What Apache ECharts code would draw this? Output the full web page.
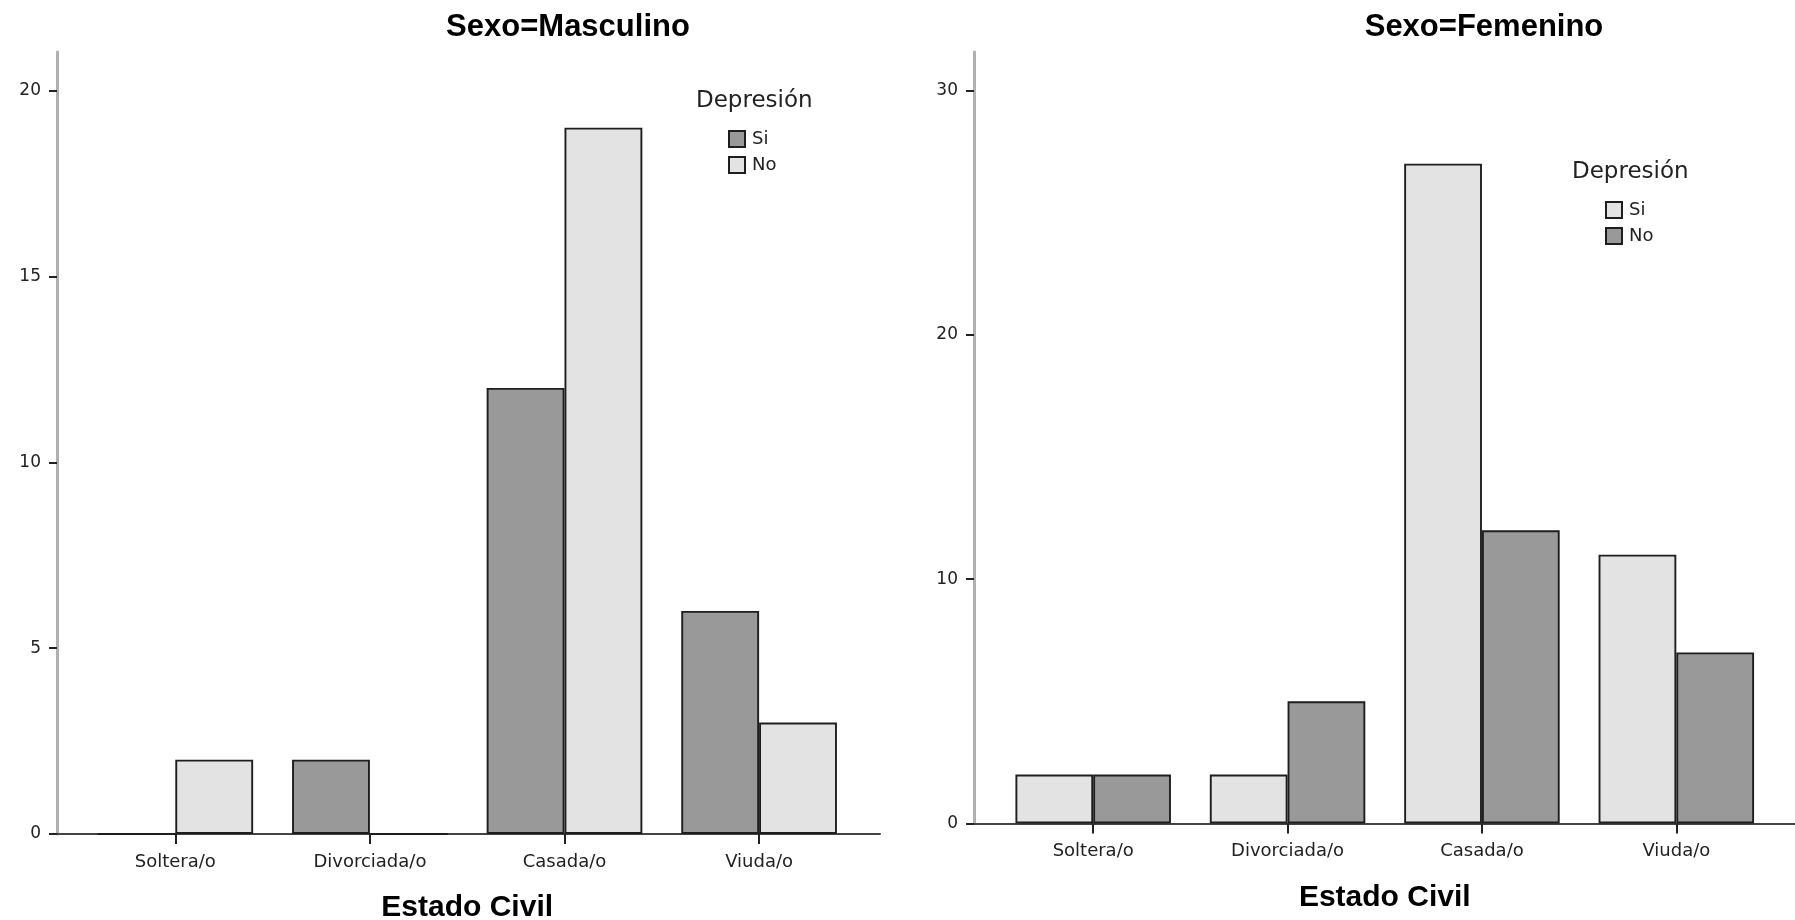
<!DOCTYPE html>
<html>
<head>
<meta charset="utf-8">
<script src="https://cdn.jsdelivr.net/npm/echarts@6/dist/echarts.min.js"></script>
<style>
html,body{margin:0;padding:0;background:#fff;}
#chart{width:1795px;height:920px;}
</style>
</head>
<body>
<div id="chart"></div>
<script>
// ---- data ----
const categories = ['Soltera/o', 'Divorciada/o', 'Casada/o', 'Viuda/o'];
const legendLabels = ['Si', 'No'];
const masculinoSi = [0, 2, 12, 6];
const masculinoNo = [2, 0, 19, 3];
const femeninoSi = [2, 2, 27, 11];
const femeninoNo = [2, 5, 12, 7];
const leftTicks = [0, 5, 10, 15, 20];
const rightTicks = [0, 10, 20, 30];
const leftTitle = 'Sexo=Masculino';
const rightTitle = 'Sexo=Femenino';
const xTitle = 'Estado Civil';
const legendTitle = 'Depresión';

// ---- styles ----
const DARK = '#999999';
const LIGHT = '#e3e3e3';
const FONT = 'Liberation Sans';
const FONT2 = 'DejaVu Sans';
const barBorder = {borderColor: '#1e1e1e', borderWidth: 1.9};

const L = {barLeft: 78, barWidth: 778.4, frameLeft: 57, frameWidth: 823, top: 52, height: 782, max: 21.036};
const R = {barLeft: 996, barWidth: 777.5, frameLeft: 974, frameWidth: 830, top: 52, height: 771.5, max: 31.57};

function catAxis(grid) {
  return {
    type: 'category', gridIndex: grid, data: categories,
    axisLine: {show: false},
    axisTick: {show: true, alignWithLabel: true, length: 10, lineStyle: {color: '#222', width: 2}},
    axisLabel: {color: '#222', fontFamily: FONT2, fontSize: 18, margin: 19},
    splitLine: {show: false},
    name: xTitle, nameLocation: 'middle', nameGap: 59,
    nameTextStyle: {color: '#000', fontFamily: FONT, fontSize: 30, fontWeight: 'bold'}
  };
}
function frameX(grid) {
  return {
    type: 'value', gridIndex: grid, min: 0, max: 1,
    axisLine: {show: true, lineStyle: {color: '#444', width: 2}},
    axisTick: {show: false}, axisLabel: {show: false}, splitLine: {show: false}
  };
}
function hiddenY(grid, max) {
  return {type: 'value', gridIndex: grid, min: 0, max: max, show: false, splitLine: {show: false}};
}
function frameY(grid, max, ticks) {
  return {
    type: 'value', gridIndex: grid, min: 0, max: max,
    axisLine: {show: true, lineStyle: {color: '#b0b0b0', width: 3}},
    axisTick: {show: true, length: 8, customValues: ticks, lineStyle: {color: '#222', width: 2}},
    axisLabel: {show: true, customValues: ticks, color: '#222', fontFamily: FONT2, fontSize: 17, margin: 16},
    splitLine: {show: false}
  };
}
function bar(name, data, x, y, color) {
  return {
    name: name, type: 'bar', xAxisIndex: x, yAxisIndex: y, data: data,
    barGap: '0%', barCategoryGap: '20%',
    itemStyle: Object.assign({color: color}, barBorder),
    emphasis: {disabled: true}, animation: false
  };
}
const legendFmt = n => n.split(' ')[0];
const gridBase = {outerBoundsMode: 'none', containLabel: false};

const option = {
  animation: false,
  backgroundColor: '#ffffff',
  title: [
    {text: leftTitle, left: 568, top: 12, textAlign: 'center', padding: 0,
     textStyle: {fontFamily: FONT, fontSize: 31, fontWeight: 'bold', color: '#000'}},
    {text: rightTitle, left: 1484, top: 12, textAlign: 'center', padding: 0,
     textStyle: {fontFamily: FONT, fontSize: 31, fontWeight: 'bold', color: '#000'}},
    {text: legendTitle, left: 696, top: 90, padding: 0,
     textStyle: {fontFamily: FONT2, fontSize: 23, fontWeight: 'normal', color: '#222'}},
    {text: legendTitle, left: 1572, top: 161, padding: 0,
     textStyle: {fontFamily: FONT2, fontSize: 23, fontWeight: 'normal', color: '#222'}}
  ],
  legend: [
    {data: ['Si M', 'No M'], orient: 'vertical', left: 728, top: 130, padding: 0,
     itemWidth: 16, itemHeight: 16, itemGap: 8, icon: 'rect', formatter: legendFmt,
     selectedMode: false, textStyle: {fontFamily: FONT2, fontSize: 18, color: '#222', padding: [0, 0, 0, 2]}},
    {data: ['Si F', 'No F'], orient: 'vertical', left: 1605, top: 201, padding: 0,
     itemWidth: 16, itemHeight: 16, itemGap: 8, icon: 'rect', formatter: legendFmt,
     selectedMode: false, textStyle: {fontFamily: FONT2, fontSize: 18, color: '#222', padding: [0, 0, 0, 2]}}
  ],
  grid: [
    Object.assign({left: L.barLeft, top: L.top, width: L.barWidth, height: L.height}, gridBase),
    Object.assign({left: L.frameLeft, top: L.top, width: L.frameWidth, height: L.height}, gridBase),
    Object.assign({left: R.barLeft, top: R.top, width: R.barWidth, height: R.height}, gridBase),
    Object.assign({left: R.frameLeft, top: R.top, width: R.frameWidth, height: R.height}, gridBase)
  ],
  xAxis: [catAxis(0), frameX(1), catAxis(2), frameX(3)],
  yAxis: [hiddenY(0, L.max), frameY(1, L.max, leftTicks), hiddenY(2, R.max), frameY(3, R.max, rightTicks)],
  series: [
    bar('Si M', masculinoSi, 0, 0, DARK),
    bar('No M', masculinoNo, 0, 0, LIGHT),
    bar('Si F', femeninoSi, 2, 2, LIGHT),
    bar('No F', femeninoNo, 2, 2, DARK)
  ]
};
const chart = echarts.init(document.getElementById('chart'), null, {renderer: 'canvas'});
chart.setOption(option);
</script>
</body>
</html>
